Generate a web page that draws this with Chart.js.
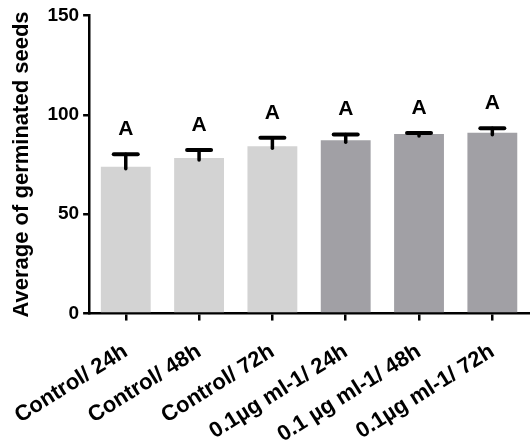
<!DOCTYPE html>
<html>
<head>
<meta charset="utf-8">
<script src="https://cdn.jsdelivr.net/npm/chart.js@4.4.1/dist/chart.umd.min.js"></script>
<style>
  html, body { margin: 0; padding: 0; background: #fff; }
  #wrap { width: 530px; height: 446px; }
</style>
</head>
<body>
<div id="wrap"><canvas id="myChart" width="530" height="446"></canvas></div>
<script>
const categories = ["Control/ 24h", "Control/ 48h", "Control/ 72h", "0.1µg ml-1/ 24h", "0.1 µg ml-1/ 48h", "0.1µg ml-1/ 72h"];
const means = [73.8, 78.2, 84.2, 87.2, 90.3, 91.0];
const errors = [6.3, 4.1, 4.2, 2.9, 0.5, 2.2];
const letters = ["A", "A", "A", "A", "A", "A"];
const yTicks = [0, 50, 100, 150];

const barColors = ['#d3d3d3', '#d3d3d3', '#d3d3d3', '#a1a0a5', '#a1a0a5', '#a1a0a5'];
const FONT = '"Liberation Sans", Arial, sans-serif';

// error bars (upper only) + letters above them
const errorBarPlugin = {
    id: 'errorBars',
    afterDatasetsDraw(chart) {
        const ctx = chart.ctx;
        const y = chart.scales.y;
        const meta = chart.getDatasetMeta(0);
        ctx.save();
        ctx.strokeStyle = '#000';
        ctx.lineCap = 'round';
        meta.data.forEach((bar, i) => {
            const yMean = y.getPixelForValue(means[i]);
            const yTop = y.getPixelForValue(means[i] + errors[i]);
            ctx.lineWidth = 3.5;
            ctx.beginPath();
            ctx.moveTo(bar.x, yMean + 2);
            ctx.lineTo(bar.x, yTop);
            ctx.stroke();
            ctx.lineWidth = 4;
            ctx.beginPath();
            ctx.moveTo(bar.x - 12, yTop);
            ctx.lineTo(bar.x + 12, yTop);
            ctx.stroke();

            ctx.fillStyle = '#000';
            ctx.font = 'bold 21px ' + FONT;
            ctx.textAlign = 'center';
            ctx.textBaseline = 'alphabetic';
            ctx.fillText(letters[i], bar.x, yTop - 19);
        });
        ctx.restore();
    }
};

new Chart(document.getElementById('myChart'), {
    type: 'bar',
    data: {
        labels: categories,
        datasets: [{
            data: means,
            backgroundColor: barColors,
            borderWidth: 0,
            barPercentage: 0.68,
            categoryPercentage: 1.0
        }]
    },
    options: {
        responsive: false,
        animation: false,
        devicePixelRatio: 1,
        layout: { padding: { top: 13, left: 9, right: 1, bottom: -20 } },
        plugins: {
            legend: { display: false },
            tooltip: { enabled: false }
        },
        scales: {
            y: {
                min: 0,
                max: 150,
                afterBuildTicks(axis) {
                    axis.ticks = yTicks.map(v => ({ value: v }));
                },
                ticks: {
                    color: '#000',
                    padding: 4,
                    font: { family: FONT, size: 19, weight: 'bold' }
                },
                grid: {
                    display: true,
                    drawOnChartArea: false,
                    drawTicks: true,
                    tickLength: 6,
                    color: '#000',
                    lineWidth: 2.5
                },
                border: { display: true, color: '#000', width: 2.5 },
                title: {
                    display: true,
                    text: 'Average of germinated seeds',
                    color: '#000',
                    padding: { top: 0, bottom: 8 },
                    font: { family: FONT, size: 22, weight: 'bold' }
                }
            },
            x: {
                // rotated labels may hang past the plot edges, like the original
                afterFit(axis) {
                    axis.paddingLeft = 0;
                    axis.paddingRight = 0;
                },
                ticks: {
                    color: '#000',
                    autoSkip: false,
                    maxRotation: 32,
                    minRotation: 32,
                    padding: 18,
                    font: { family: FONT, size: 22, weight: 'bold' }
                },
                grid: {
                    display: true,
                    offset: false,
                    drawOnChartArea: false,
                    drawTicks: true,
                    tickLength: 7,
                    color: '#000',
                    lineWidth: 2.5
                },
                border: { display: true, color: '#000', width: 2.5 }
            }
        }
    },
    plugins: [errorBarPlugin]
});
</script>
</body>
</html>
